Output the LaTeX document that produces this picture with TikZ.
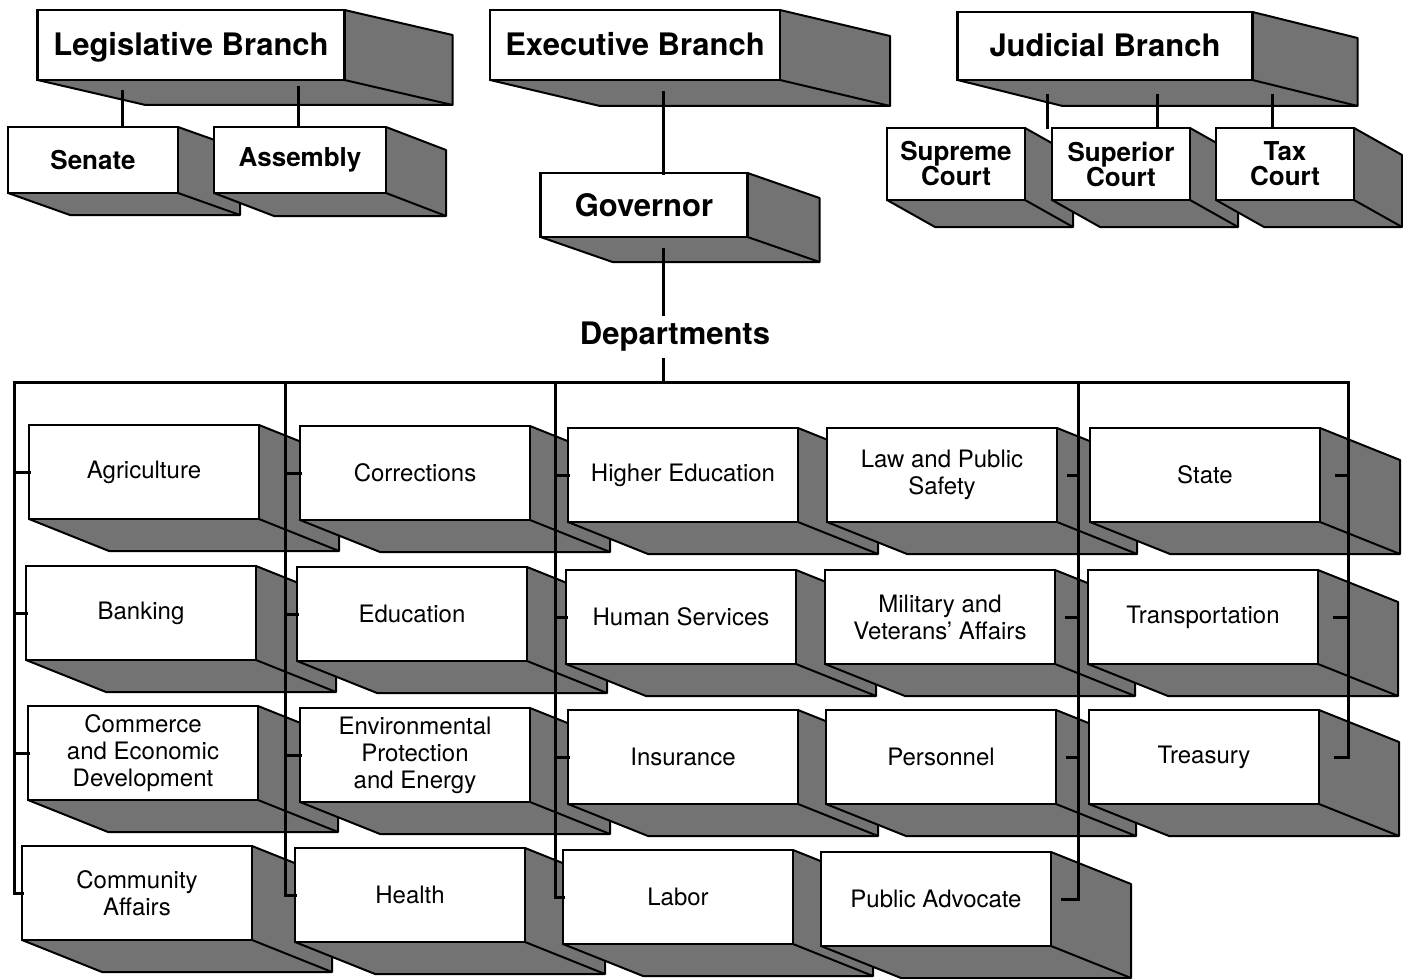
\documentclass[tikz,border=0pt]{standalone}
\usepackage{fontspec}
\setmainfont{TeX Gyre Heros}
\usetikzlibrary{backgrounds}

% dark side and floor of a block, drawn behind its face
\newcommand{\slab}[3]{%
  \begin{pgfonlayer}{background}
    \draw[slab] (#1.north east) -- ([shift={(#2,#3)}]#1.north east)
      -- ([shift={(#2,#3)}]#1.south east) -- ([shift={(#2,#3)}]#1.south west)
      -- (#1.south west) -- cycle;
    \draw[slab, fill=none] (#1.south east) -- ([shift={(#2,#3)}]#1.south east);
  \end{pgfonlayer}}

\begin{document}
\begin{tikzpicture}[x=1pt, y=-1pt,
    branch/.style ={draw, line width=2.5pt, fill=white, outer sep=0pt, text depth=2pt,
      font=\bfseries\fontsize{31}{31}\selectfont},
    office/.style ={draw, line width=2.5pt, fill=white, outer sep=0pt, align=center,
      font=\bfseries\fontsize{26}{25}\selectfont},
    dept/.style ={draw, line width=2pt, fill=white, outer sep=0pt, align=center,
      minimum width=230pt, minimum height=94pt, font=\fontsize{24}{27}\selectfont},
    slab/.style ={draw, line width=2pt, fill=black!55, line join=round},
    link/.style ={line width=3pt, line cap=rect}]
   \useasboundingbox (0,0) rectangle (1403,979);

   % branches
   \node[branch, minimum width=307pt, minimum height=70pt] (leg)  at (191,45)  {Legislative Branch};
   \slab{leg}{108}{25}
   \node[branch, minimum width=290pt, minimum height=70pt] (exec) at (635,45)  {Executive Branch};
   \slab{exec}{110}{26}
   \node[branch, minimum width=295pt, minimum height=68pt] (jud)  at (1105,46) {Judicial Branch};
   \slab{jud}{105}{26}

   \node[office, minimum width=170pt, minimum height=66pt] (senate)   at (93,160)  {Senate};
   \slab{senate}{62}{22}
   \node[office, minimum width=172pt, minimum height=66pt] (assembly) at (300,160) {Assembly};
   \slab{assembly}{60}{23}
   \node[office, minimum width=207pt, minimum height=64pt,
     font=\bfseries\fontsize{31}{31}\selectfont] (gov) at (644,205) {Governor};
   \slab{gov}{72}{25}
   \node[office, minimum width=138pt, minimum height=72pt] (supreme)  at (956,164)  {Supreme\\Court};
   \slab{supreme}{48}{27}
   \node[office, minimum width=138pt, minimum height=72pt] (superior) at (1121,164) {Superior\\Court};
   \slab{superior}{48}{27}
   \node[office, minimum width=138pt, minimum height=72pt] (tax)      at (1285,164) {Tax\\Court};
   \slab{tax}{48}{27}

   \node[font=\bfseries\fontsize{31}{31}\selectfont, inner sep=8pt] (deps) at (675,337) {Departments};

   % departments
   \node[dept] (agri)      at (144,472) {Agriculture};
   \slab{agri}{80}{32}
   \node[dept] (corr)      at (415,473) {Corrections};
   \slab{corr}{80}{32}
   \node[dept] (hied)      at (683,475) {Higher Education};
   \slab{hied}{80}{32}
   \node[dept] (law)       at (942,475) {Law and Public\\Safety};
   \slab{law}{80}{32}
   \node[dept] (state)     at (1205,475) {State};
   \slab{state}{80}{32}

   \node[dept] (banking)   at (141,613) {Banking};
   \slab{banking}{80}{32}
   \node[dept] (educ)      at (412,614) {Education};
   \slab{educ}{80}{32}
   \node[dept] (humserv)   at (681,617) {Human Services};
   \slab{humserv}{80}{32}
   \node[dept] (military)  at (940,617) {Military and\\Veterans’ Affairs};
   \slab{military}{80}{32}
   \node[dept] (transp)    at (1203,617) {Transportation};
   \slab{transp}{80}{32}

   \node[dept] (commerce)  at (143,753) {Commerce\\and Economic\\Development};
   \slab{commerce}{80}{32}
   \node[dept] (envir)     at (415,755) {Environmental\\Protection\\and Energy};
   \slab{envir}{80}{32}
   \node[dept] (insur)     at (683,757) {Insurance};
   \slab{insur}{80}{32}
   \node[dept] (personnel) at (941,757) {Personnel};
   \slab{personnel}{80}{32}
   \node[dept] (treasury)  at (1204,757) {Treasury};
   \slab{treasury}{80}{32}

   \node[dept] (community) at (137,893) {Community\\Affairs};
   \slab{community}{80}{32}
   \node[dept] (health)    at (410,895) {Health};
   \slab{health}{80}{32}
   \node[dept] (labor)     at (678,897) {Labor};
   \slab{labor}{80}{32}
   \node[dept] (advocate)  at (936,899) {Public Advocate};
   \slab{advocate}{80}{32}

   % links
   \coordinate (busL)  at (14,382);
   \coordinate (bus2)  at (285,382);
   \coordinate (bus3)  at (555,382);
   \coordinate (spine) at (663,382);
   \coordinate (bus4)  at (1078,382);
   \coordinate (busR)  at (1348,382);

   \draw[link] ([xshift=29pt,yshift=-12pt]senate.north |- leg.south) -- ([xshift=29pt]senate.north);
   \draw[link] ([xshift=-2pt,yshift=-8pt]assembly.north |- leg.south) -- ([xshift=-2pt]assembly.north);
   \draw[link] ([xshift=22pt,yshift=-16pt]supreme.north east |- jud.south) -- ([xshift=22pt]supreme.north east);
   \draw[link] ([xshift=36pt,yshift=-16pt]superior.north |- jud.south) -- ([xshift=36pt]superior.north);
   \draw[link] ([xshift=-13pt,yshift=-16pt]tax.north |- jud.south) -- ([xshift=-13pt]tax.north);
   \draw[link] ([yshift=-13pt]exec.south -| spine) -- (gov.north -| spine);
   \draw[link] ([yshift=-12pt]gov.south -| spine) -- (deps.north -| spine);
   \draw[link] (deps.south -| spine) -- (spine);

   \draw[link] (busL) -- (busR);
   \draw[link] (busL) |- (community.west);
   \draw[link] (bus2) |- (health.west);
   \draw[link] (bus3) |- (labor.west);
   \draw[link] (bus4) |- ([xshift=11pt]advocate.east);
   \draw[link] (busR) |- ([xshift=16pt]treasury.east);

   \draw[link] (agri.west -| busL) -- (agri.west);
   \draw[link] (banking.west -| busL) -- (banking.west);
   \draw[link] (commerce.west -| busL) -- (commerce.west);
   \draw[link] (corr.west -| bus2) -- (corr.west);
   \draw[link] (educ.west -| bus2) -- (educ.west);
   \draw[link] (envir.west -| bus2) -- (envir.west);
   \draw[link] (hied.west -| bus3) -- (hied.west);
   \draw[link] (humserv.west -| bus3) -- (humserv.west);
   \draw[link] (insur.west -| bus3) -- (insur.west);
   \draw[link] (law.east -| bus4) -- ([xshift=11pt]law.east);
   \draw[link] (military.east -| bus4) -- ([xshift=11pt]military.east);
   \draw[link] (personnel.east -| bus4) -- ([xshift=11pt]personnel.east);
   \draw[link] (state.east -| busR) -- ([xshift=16pt]state.east);
   \draw[link] (transp.east -| busR) -- ([xshift=16pt]transp.east);
\end{tikzpicture}
\end{document}
